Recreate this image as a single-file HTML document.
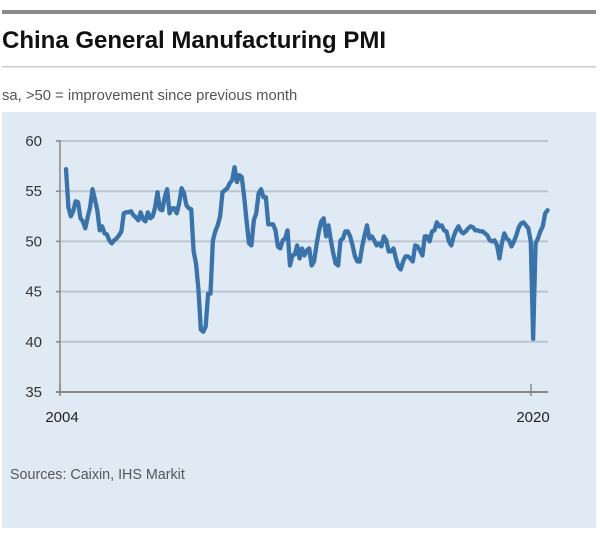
<!DOCTYPE html>
<html><head><meta charset="utf-8"><style>
body{margin:0;width:600px;height:535px;background:#fff;overflow:hidden;font-family:"Liberation Sans",sans-serif}
</style></head><body>
<svg width="600" height="535" viewBox="0 0 600 535" xmlns="http://www.w3.org/2000/svg">
<rect x="2" y="10" width="594" height="4" fill="#8a8a8a"/>
<text x="2" y="48" font-size="24" font-weight="bold" fill="#111">China General Manufacturing PMI</text>
<rect x="2" y="66" width="594" height="1.5" fill="#cccccc"/>
<text x="2" y="100" font-size="14.8" fill="#555">sa, &gt;50 = improvement since previous month</text>
<rect x="2" y="112" width="594" height="416" fill="#dfeaf5"/>
<g id="grid"></g>
<g id="axes"></g>
<path id="line" fill="none" stroke="#3a72aa" stroke-width="4.3" stroke-linejoin="round" stroke-linecap="round"/>
<text x="10" y="479" font-size="14.3" fill="#555">Sources: Caixin, IHS Markit</text>
</svg>
<script>
const yTicks=[35,40,45,50,55,60];
const yTickLabels=["35","40","45","50","55","60"];
const xTicks=[2004,2020];
const xTickLabels=["2004","2020"];
const startT=2004.204;
const monthStep=0.0818;
const pmi=[57.2,53.4,52.5,53.0,54.0,53.9,52.3,52.0,51.3,52.4,53.4,55.2,54.2,53.1,51.1,51.5,50.8,50.7,50.1,49.8,
50.1,50.3,50.6,51.0,52.8,52.9,52.9,53.0,52.6,52.4,52.1,52.9,52.2,52.0,52.9,52.3,52.5,53.4,54.9,53.2,
53.1,54.4,55.2,52.8,53.3,53.3,52.8,53.8,55.3,54.8,53.6,53.3,53.2,49.0,47.8,45.2,41.2,41.0,41.5,44.8,
44.8,50.1,51.0,51.6,52.5,54.9,55.1,55.3,55.8,56.1,57.4,55.9,56.6,56.4,54.4,52.0,49.8,49.6,52.1,52.8,
54.8,55.2,54.4,54.4,51.7,51.7,51.7,51.1,49.5,49.3,50.1,50.3,51.1,47.6,48.6,48.7,49.6,48.3,49.3,48.6,
49.1,49.3,47.6,48.0,49.6,51.0,52.0,52.3,50.5,51.6,50.1,48.8,47.8,47.6,50.1,50.3,51.0,51.0,50.5,49.6,
48.5,48.0,48.0,49.5,50.6,51.6,50.3,50.5,50.1,49.6,49.8,49.5,50.5,50.1,49.0,49.0,49.3,48.3,47.5,47.2,
48.0,48.5,48.5,48.3,48.0,49.6,49.5,49.1,48.6,50.5,50.5,50.0,51.0,51.1,51.9,51.5,51.6,51.1,51.0,50.0,
49.6,50.5,51.1,51.5,51.0,50.8,51.0,51.3,51.5,51.4,51.1,51.1,51.0,51.0,50.8,50.6,50.1,50.0,50.1,49.6,
48.3,49.8,50.8,50.3,50.1,49.5,50.0,50.6,51.4,51.8,51.9,51.6,51.3,50.0,40.3,49.8,50.3,51.0,51.5,52.8,53.1];
const NS="http://www.w3.org/2000/svg";
const x0=60,x1=548,y0=392;
function xs(t){return 60+(t-2004)*(531-60)/16;}
function ys(v){return 392-(v-35)*(251/25);}
const grid=document.getElementById('grid'),axes=document.getElementById('axes');
yTicks.forEach((v,i)=>{
  if(v>35){const l=document.createElementNS(NS,'line');
  l.setAttribute('x1',x0);l.setAttribute('x2',x1);l.setAttribute('y1',ys(v));l.setAttribute('y2',ys(v));
  l.setAttribute('stroke','#bcc4cf');l.setAttribute('stroke-width','2');
  
  
  grid.appendChild(l);}
  const tk=document.createElementNS(NS,'line');
  tk.setAttribute('x1',x0-4);tk.setAttribute('x2',x0);tk.setAttribute('y1',ys(v));tk.setAttribute('y2',ys(v));
  tk.setAttribute('stroke','#888');tk.setAttribute('stroke-width','1.5');
  
  
  axes.appendChild(tk);
  const t=document.createElementNS(NS,'text');
  t.setAttribute('x',42);t.setAttribute('y',ys(v)+5);t.setAttribute('text-anchor','end');
  t.setAttribute('font-size','15');t.setAttribute('fill','#333');t.textContent=yTickLabels[i];
  
  
  axes.appendChild(t);
});
const ya=document.createElementNS(NS,'line');
ya.setAttribute('x1',x0);ya.setAttribute('x2',x0);ya.setAttribute('y1',ys(60)-1);ya.setAttribute('y2',y0+4);
ya.setAttribute('stroke','#888');ya.setAttribute('stroke-width','1.5');


axes.appendChild(ya);
const xa=document.createElementNS(NS,'line');
xa.setAttribute('x1',x0-4);xa.setAttribute('x2',x1);xa.setAttribute('y1',y0);xa.setAttribute('y2',y0);
xa.setAttribute('stroke','#888');xa.setAttribute('stroke-width','2');


axes.appendChild(xa);
xTicks.forEach((yr,i)=>{
  const tk=document.createElementNS(NS,'line');
  tk.setAttribute('x1',xs(yr));tk.setAttribute('x2',xs(yr));tk.setAttribute('y1',y0-8);tk.setAttribute('y2',y0+4);
  tk.setAttribute('stroke','#888');tk.setAttribute('stroke-width','1.5');
  
  
  axes.appendChild(tk);
  const t=document.createElementNS(NS,'text');
  t.setAttribute('x',xs(yr)+2);t.setAttribute('y',422);t.setAttribute('text-anchor','middle');
  t.setAttribute('font-size','15');t.setAttribute('fill','#222');t.textContent=xTickLabels[i];
  
  
  axes.appendChild(t);
});
let d='';
pmi.forEach((v,i)=>{d+=(i?'L':'M')+xs(startT+i*monthStep).toFixed(2)+','+ys(v).toFixed(2);});
document.getElementById('line').setAttribute('d',d);
</script>
</body></html>
